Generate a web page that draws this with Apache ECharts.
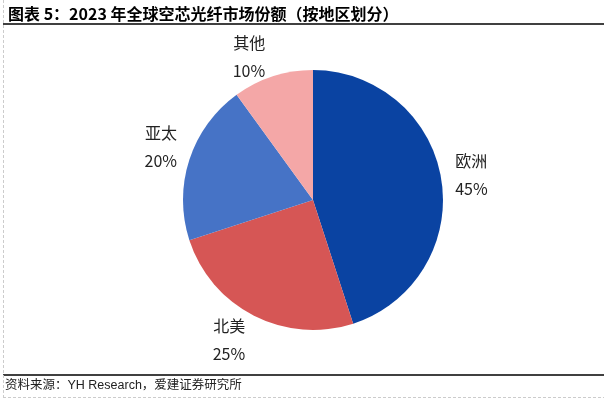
<!DOCTYPE html>
<html>
<head>
<meta charset="utf-8">
<script src="https://cdn.jsdelivr.net/npm/echarts@6/dist/echarts.min.js"></script>
<style>
  html, body { margin: 0; padding: 0; background: #fff; }
  #chart { width: 604px; height: 399px; }
</style>
</head>
<body>
<div id="chart"></div>
<script>
// 地区与份额 (%)
const regions = ['欧洲', '北美', '亚太', '其他'];
const shares = [45, 25, 20, 10];
const colors = ['#0A43A2', '#D65655', '#4673C6', '#F4A7A7'];

// 标签微调 (px)，对应 regions 顺序
const labelShift = [[-6, -2], [3, 11], [7, -8], [2, -5]];

const chart = echarts.init(document.getElementById('chart'));

const option = {
  animation: false,
  title: {
    text: '图表 5：2023 年全球空芯光纤市场份额（按地区划分）',
    left: 3,
    top: 1,
    textStyle: {
      fontFamily: 'Noto Sans CJK SC',
      fontSize: 16,
      fontWeight: 'bold',
      color: '#000'
    }
  },
  graphic: [
    { type: 'line', shape: { x1: 3, y1: 24, x2: 604, y2: 24 }, style: { stroke: '#000', lineWidth: 1.5 } },
    { type: 'line', shape: { x1: 3, y1: 375, x2: 604, y2: 375 }, style: { stroke: '#000', lineWidth: 1.5 } },
    { type: 'line', shape: { x1: 3.5, y1: 0, x2: 3.5, y2: 399 }, style: { stroke: '#ccc', lineWidth: 1, lineDash: [3, 2] } },
    { type: 'line', shape: { x1: 3, y1: 397.5, x2: 604, y2: 397.5 }, style: { stroke: '#ccc', lineWidth: 1, lineDash: [3, 2] } },
    {
      type: 'text', left: 5, top: 379,
      style: { text: '资料来源：YH Research，爱建证券研究所', font: '12.5px "Liberation Sans", "Noto Sans CJK SC"', fill: '#222' }
    }
  ],
  series: [
    {
      type: 'pie',
      center: [313, 200],
      radius: 130,
      startAngle: 90,
      clockwise: true,
      data: regions.map((name, i) => ({
        name: name,
        value: shares[i],
        itemStyle: { color: colors[i] }
      })),
      label: {
        show: true,
        position: 'outside',
        formatter: '{b}\n{c}%',
        fontFamily: 'Noto Sans CJK SC',
        fontSize: 16,
        lineHeight: 28,
        color: '#222'
      },
      labelLine: { show: false, length: 15, length2: 0 },
      labelLayout: function (params) {
        const s = labelShift[params.dataIndex] || [0, 0];
        return { dx: s[0], dy: s[1] };
      },
      emphasis: { disabled: true }
    }
  ]
};

chart.setOption(option);
</script>
</body>
</html>
